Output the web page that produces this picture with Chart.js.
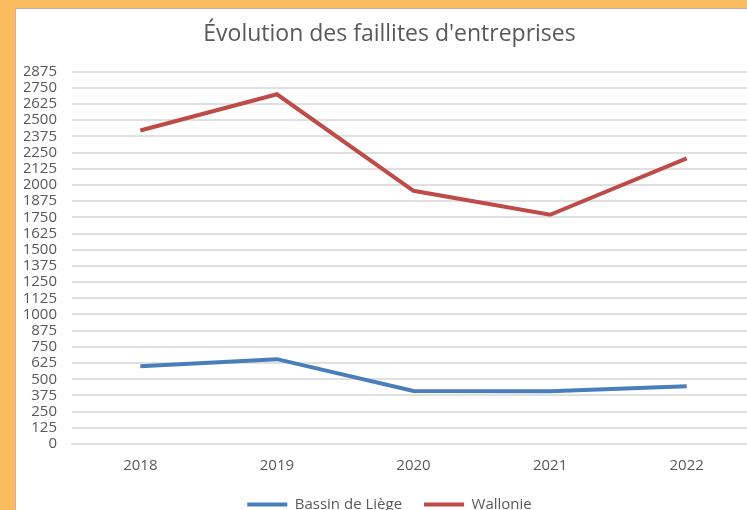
<!DOCTYPE html>
<html>
<head>
<meta charset="utf-8">
<script src="https://cdn.jsdelivr.net/npm/chart.js@4/dist/chart.umd.min.js"></script>
<style>
  html, body { margin: 0; padding: 0; width: 747px; height: 510px; overflow: hidden; background: #fbbc5f; }
  #panel { position: absolute; left: 15px; top: 8px; width: 800px; height: 600px; background: #ffffff;
           border-left: 1px solid #d8a99c; border-top: 1px solid #d8a99c; }
  #c { position: absolute; left: 16px; top: 9px; }
</style>
</head>
<body>
<div id="panel"></div>
<canvas id="c" width="748" height="513"></canvas>
<script>
const categories = ['2018', '2019', '2020', '2021', '2022'];
const bassinDeLiege = [600, 655, 410, 408, 445];
const wallonie = [2420, 2700, 1955, 1770, 2205];
const yMin = 0, yMax = 2875, yStep = 125;
const titleText = "Évolution des faillites d'entreprises";

const textColor = '#595959';
const gridColor = '#e0e0e0';

new Chart(document.getElementById('c'), {
  type: 'line',
  data: {
    labels: categories,
    datasets: [
      { label: 'Bassin de Liège', data: bassinDeLiege, borderColor: '#4a7ebb', backgroundColor: '#4a7ebb',
        borderWidth: 4, pointRadius: 0, tension: 0 },
      { label: 'Wallonie', data: wallonie, borderColor: '#be4b48', backgroundColor: '#be4b48',
        borderWidth: 4, pointRadius: 0, tension: 0 }
    ]
  },
  options: {
    responsive: false,
    animation: false,
    layout: { padding: { left: 8, right: 9, top: 0, bottom: 0 } },
    plugins: {
      title: { display: true, text: titleText, color: textColor,
               font: { family: 'Open Sans', size: 23, weight: 'normal' }, padding: { top: 12, bottom: 23 } },
      legend: { position: 'bottom',
        labels: { color: textColor, font: { family: 'Open Sans', size: 15 }, usePointStyle: true,
                  pointStyle: 'line', pointStyleWidth: 40, padding: 22 } },
      tooltip: { enabled: false }
    },
    scales: {
      x: {
        offset: true,
        grid: { display: false, drawTicks: false, offset: true },
        border: { display: true, color: gridColor, width: 2 },
        ticks: { color: textColor, font: { family: 'Open Sans', size: 15 }, padding: 13 },
        afterFit: s => { s.height = 31; }
      },
      y: {
        min: yMin, max: yMax,
        grid: { color: gridColor, lineWidth: 2, drawTicks: false },
        border: { display: false },
        ticks: { stepSize: yStep, autoSkip: false, color: textColor,
                 font: { family: 'Open Sans', size: 15 }, padding: 15,
                 callback: v => String(v) },
        afterFit: s => { s.width = 48; }
      }
    }
  }
});
</script>
</body>
</html>
